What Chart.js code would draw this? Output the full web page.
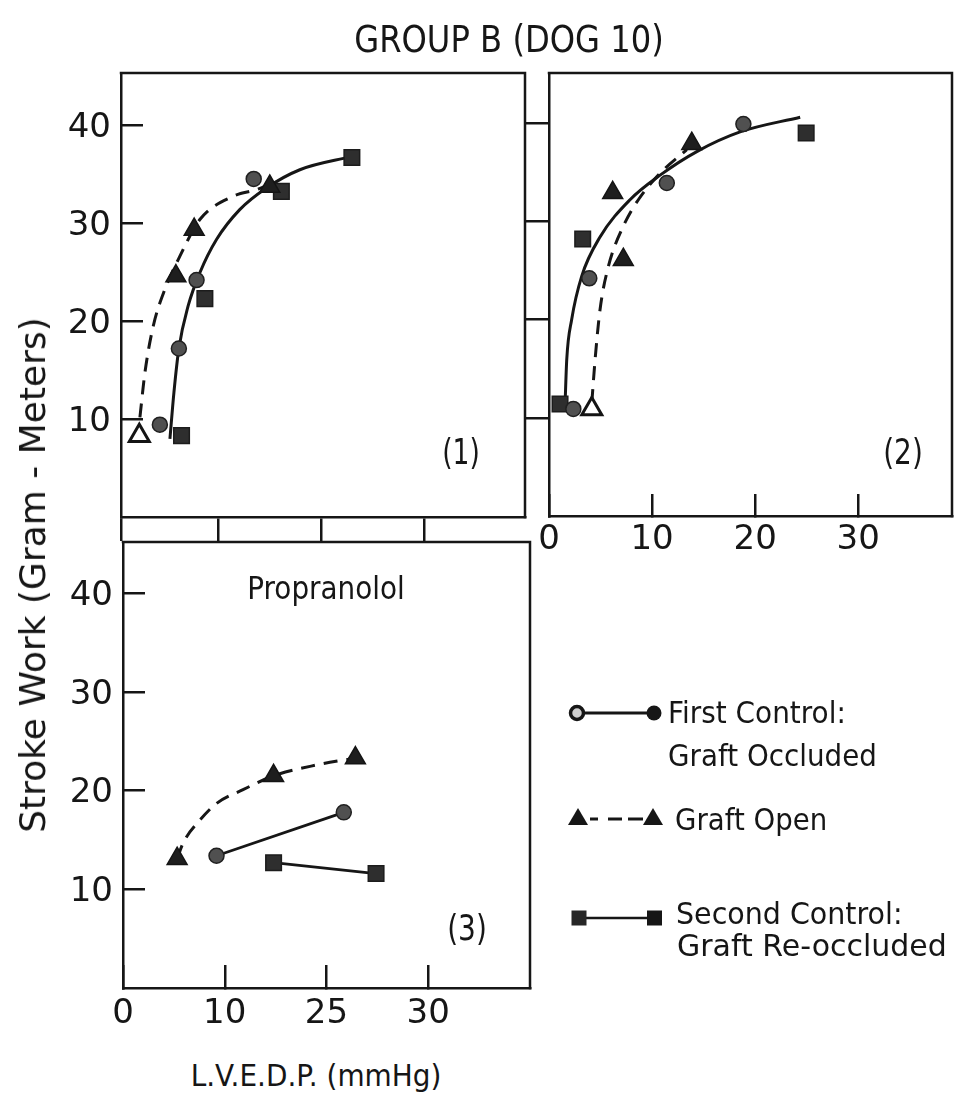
<!DOCTYPE html>
<html>
<head>
<meta charset="utf-8">
<title>Group B (Dog 10) – Stroke work vs L.V.E.D.P.</title>
<script src="https://cdn.jsdelivr.net/npm/chart.js@4.4.1/dist/chart.umd.min.js"></script>
<style>
  html, body { margin: 0; padding: 0; background: #fff; }
  body { width: 956px; height: 1099px; position: relative; overflow: hidden;
         font-family: "DejaVu Sans", sans-serif; color: #161616; }
  canvas { position: absolute; }
  .t { position: absolute; white-space: nowrap; line-height: 1; }
  .c { transform-origin: center center; }
  .l { transform-origin: left center; }
</style>
</head>
<body>

<canvas id="panel1" width="484" height="509" style="left:51px;top:43px"></canvas>
<canvas id="panel2" width="437" height="523" style="left:519px;top:43px"></canvas>
<canvas id="panel3" width="487" height="526" style="left:53px;top:512px"></canvas>

<div class="t c" style="left:509px;top:39px;font-size:37px;transform:translate(-50%,-50%) scaleX(.87)">GROUP B (DOG 10)</div>
<div class="t c" style="left:33px;top:575px;font-size:36px;transform:translate(-50%,-50%) rotate(-90deg)">Stroke Work (Gram - Meters)</div>
<div class="t c" style="left:316px;top:1075px;font-size:31px;transform:translate(-50%,-50%) scaleX(.9)">L.V.E.D.P. (mmHg)</div>
<div class="t c" style="left:326px;top:588px;font-size:32px;transform:translate(-50%,-50%) scaleX(.87)">Propranolol</div>
<div class="t c" style="left:461px;top:452px;font-size:35px;transform:translate(-50%,-50%) scaleX(.76)">(1)</div>
<div class="t c" style="left:903px;top:452px;font-size:35px;transform:translate(-50%,-50%) scaleX(.8)">(2)</div>
<div class="t c" style="left:467px;top:928px;font-size:35px;transform:translate(-50%,-50%) scaleX(.8)">(3)</div>

<!-- key -->
<svg width="956" height="1099" style="position:absolute;left:0;top:0">
  <line x1="577" y1="713" x2="654" y2="713" stroke="#161616" stroke-width="3"/>
  <circle cx="577" cy="713" r="6.5" fill="#cfcfcf" stroke="#161616" stroke-width="3.5"/>
  <circle cx="654" cy="713" r="7.5" fill="#161616"/>

  <path d="M568,825 L578,808 L588,825 Z" fill="#161616"/>
  <line x1="590" y1="819" x2="598" y2="819" stroke="#161616" stroke-width="3"/>
  <line x1="608" y1="819" x2="622" y2="819" stroke="#161616" stroke-width="3"/>
  <line x1="628" y1="819" x2="643" y2="819" stroke="#161616" stroke-width="3"/>
  <path d="M643,825 L653,808 L663,825 Z" fill="#161616"/>

  <line x1="586" y1="918" x2="648" y2="918" stroke="#161616" stroke-width="2.5"/>
  <rect x="571.5" y="910.5" width="15" height="15" fill="#262626"/>
  <rect x="647" y="910.5" width="15" height="15" fill="#161616"/>
</svg>
<div class="t l" style="left:668px;top:713px;font-size:30px;transform:translateY(-50%) scaleX(.93)">First Control:</div>
<div class="t l" style="left:668px;top:756px;font-size:30px;transform:translateY(-50%) scaleX(.925)">Graft Occluded</div>
<div class="t l" style="left:675px;top:820px;font-size:30px;transform:translateY(-50%) scaleX(.92)">Graft Open</div>
<div class="t l" style="left:676px;top:914px;font-size:30px;transform:translateY(-50%) scaleX(.95)">Second Control:</div>
<div class="t l" style="left:677px;top:946px;font-size:30px;transform:translateY(-50%) scaleX(1.0)">Graft Re-occluded</div>

<script>
// ---------------------------------------------------------------
// Values: [L.V.E.D.P. (mmHg), stroke work (gram-meters)]
// ---------------------------------------------------------------

// Panel (1)
const p1FirstControl  = [[4.28, 9.42], [6.13, 17.19], [7.85, 24.17], [13.41, 34.49]];
const p1GraftOpen     = [[2.28, 8.3], [5.84, 24.58], [7.62, 29.33], [14.97, 33.73]];
const p1SecondControl = [[6.39, 8.3], [8.66, 22.28], [16.1, 33.22], [22.96, 36.68]];
const p1OccludedCurve = [[5.26, 7.97], [5.65, 12.72], [6.13, 17.19], [7.03, 21.53], [8.17, 24.92],
                         [9.79, 28.31], [12.05, 31.36], [14.65, 33.57], [17.9, 35.43], [22.96, 36.79]];
const p1OpenCurve     = [[2.34, 10.17], [2.83, 14.75], [3.64, 19.49], [4.77, 23.23], [6.23, 26.61],
                         [8.17, 30.35], [11.4, 32.72], [13.67, 33.4], [14.65, 33.8]];
const p1OpenHollow    = [0];

// Panel (2)
const p2FirstControl  = [[2.36, 10.9], [3.91, 24.2], [11.43, 33.9], [18.86, 39.9]];
const p2GraftOpen     = [[4.15, 10.9], [6.18, 32.9], [7.21, 26.1], [13.85, 37.9]];
const p2SecondControl = [[1.07, 11.4], [3.27, 28.2], [24.95, 39.0]];
const p2OccludedCurve = [[1.55, 11.15], [1.72, 15.9], [2.2, 20.0], [3.17, 24.4], [4.95, 28.4],
                         [7.86, 32.2], [10.78, 34.7], [14.34, 37.1], [18.54, 39.1], [24.37, 40.6]];
const p2OpenCurve     = [[4.15, 11.5], [4.47, 15.9], [4.95, 21.0], [5.76, 25.4], [7.21, 29.5],
                         [8.67, 32.2], [10.78, 34.9], [13.37, 37.3]];
const p2OpenHollow    = [0];

// Panel (3) – Propranolol
const p3FirstControl  = [[9.19, 13.4], [21.7, 17.8]];
const p3GraftOpen     = [[5.32, 13.1], [14.8, 21.5], [22.84, 23.3]];
const p3SecondControl = [[14.8, 12.7], [24.87, 11.6]];
const p3OpenCurve     = [[5.32, 13.1], [5.91, 14.7], [7.55, 17.0], [9.19, 18.7], [11.8, 20.1],
                         [14.8, 21.5], [19.0, 22.6], [22.84, 23.3]];

// Axis ticks
const yTickValues   = [10, 20, 30, 40];
const yTickLabels   = ['10', '20', '30', '40'];
const p1XTickValues = [0.5, 10, 20, 30];
const xTickValues   = [0, 10, 20, 30];
const p2XTickLabels = ['0', '10', '20', '30'];
const p3XTickLabels = ['0', '10', '25', '30'];

// ---------------------------------------------------------------
const INK = '#161616';
const FONT = { family: 'DejaVu Sans', size: 34 };

const pts = arr => arr.map(([x, y]) => ({ x, y }));

function axis(cfg) {
  const { pos, min, max, values, labels, tick, size, pad, shift } = cfg;
  return {
    type: 'linear', position: pos, min, max,
    afterBuildTicks: s => { s.ticks = values.map(v => ({ value: v })); },
    afterFit: s => {
      if (pos === 'bottom') s.height = size; else s.width = size;
      s.paddingLeft = s.paddingRight = s.paddingTop = s.paddingBottom = 0;
    },
    grid: { display: true, drawOnChartArea: false, drawTicks: true,
            tickLength: tick, color: INK, lineWidth: 2.5 },
    border: { display: true, color: INK, width: 2.5 },
    ticks: {
      display: !!labels, padding: pad || 0, color: INK, font: FONT,
      labelOffset: shift || 0,
      autoSkip: false, maxRotation: 0, minRotation: 0,
      callback: v => labels ? (labels[values.indexOf(v)] ?? '') : ''
    }
  };
}

function markers(data, style, hollow) {
  const base = {
    circle:   { r: 7.5,  fill: '#505050', edge: '#202020' },
    rect:     { r: 11,   fill: '#2e2e2e', edge: '#1c1c1c' },
    triangle: { r: 11.5, fill: '#1e1e1e', edge: '#141414' }
  }[style];
  const isHollow = i => hollow && hollow.includes(i);
  return {
    data: pts(data), showLine: false, pointStyle: style,
    pointRadius: base.r, pointHoverRadius: base.r,
    pointBackgroundColor: data.map((_, i) => isHollow(i) ? '#ffffff' : base.fill),
    pointBorderColor: base.edge,
    pointBorderWidth: data.map((_, i) => isHollow(i) ? 3 : 1.5)
  };
}

function curve(data, dashed) {
  return {
    data: pts(data), showLine: true, pointRadius: 0, pointHoverRadius: 0,
    borderColor: INK, borderWidth: 3,
    borderDash: dashed ? [14, 9] : [],
    tension: 0.4, cubicInterpolationMode: 'monotone', fill: false
  };
}

function joined(data, style) {
  return Object.assign(markers(data, style), { showLine: true, borderColor: INK, borderWidth: 2.8 });
}

// closes the box on the top and right sides
const frame = {
  id: 'frame',
  afterDraw(chart) {
    const { ctx, chartArea: a } = chart;
    ctx.save();
    ctx.strokeStyle = INK;
    ctx.lineWidth = 2.5;
    ctx.beginPath();
    ctx.moveTo(a.left - 1.25, a.top);
    ctx.lineTo(a.right, a.top);
    ctx.lineTo(a.right, a.bottom + 1.25);
    ctx.stroke();
    ctx.restore();
  }
};

function panel(id, datasets, scales, padding) {
  return new Chart(document.getElementById(id), {
    type: 'scatter',
    data: { datasets: datasets.map(d => Object.assign({ clip: false }, d)) },
    options: {
      responsive: false, animation: false, devicePixelRatio: 1,
      layout: { padding, autoPadding: false },
      plugins: { legend: { display: false }, tooltip: { enabled: false }, title: { display: false } },
      events: [],
      scales
    },
    plugins: [frame]
  });
}

Chart.defaults.font.family = 'DejaVu Sans';

// (1)
panel('panel1', [
  markers(p1FirstControl, 'circle'),
  markers(p1GraftOpen, 'triangle', p1OpenHollow),
  markers(p1SecondControl, 'rect'),
  curve(p1OccludedCurve, false),
  curve(p1OpenCurve, true)
], {
  x: axis({ pos: 'bottom', min: 0.5, max: 39.8, values: p1XTickValues, labels: null, tick: 24, size: 35 }),
  y: axis({ pos: 'left', min: 0, max: 45.3, values: yTickValues, labels: yTickLabels, tick: -22, size: 70, pad: 32, shift: 3 })
}, { top: 30, right: 10, left: 0, bottom: 0 });

// (2)
panel('panel2', [
  markers(p2FirstControl, 'circle'),
  markers(p2GraftOpen, 'triangle', p2OpenHollow),
  markers(p2SecondControl, 'rect'),
  curve(p2OccludedCurve, false),
  curve(p2OpenCurve, true)
], {
  x: axis({ pos: 'bottom', min: 0, max: 39.1, values: xTickValues, labels: p2XTickLabels, tick: -22, size: 50, pad: 25.6 }),
  y: axis({ pos: 'left', min: 0, max: 45.1, values: yTickValues, labels: null, tick: 24, size: 24 })
}, { top: 30, right: 4, left: 6, bottom: 0 });

// (3) Propranolol
panel('panel3', [
  joined(p3FirstControl, 'circle'),
  markers(p3GraftOpen, 'triangle'),
  joined(p3SecondControl, 'rect'),
  curve(p3OpenCurve, true)
], {
  x: axis({ pos: 'bottom', min: 0, max: 40, values: xTickValues, labels: p3XTickLabels, tick: -23, size: 50, pad: 28.6 }),
  y: axis({ pos: 'left', min: 0, max: 45.2, values: yTickValues, labels: yTickLabels, tick: -22, size: 70, pad: 32, shift: 3 })
}, { top: 30, right: 10, left: 0, bottom: 0 });
</script>
</body>
</html>
